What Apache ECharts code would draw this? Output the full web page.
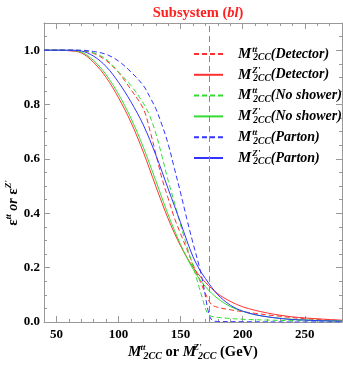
<!DOCTYPE html>
<html><head><meta charset="utf-8">
<script src="https://cdn.jsdelivr.net/npm/echarts@6/dist/echarts.min.js"></script>
<style>html,body{margin:0;padding:0;background:#fff}#c{width:343px;height:366px}</style>
</head><body><div id="c"></div>
<script>
// ---- data ----
const xTickValues = [50, 100, 150, 200, 250];
const xMinorValues = [40, 50, 60, 70, 80, 90, 100, 110, 120, 130, 140, 150, 160, 170, 180, 190, 200, 210, 220, 230, 240, 250, 260, 270, 280];
const yTickValues = [0, 0.2, 0.4, 0.6, 0.8, 1.0];
const yMinorValues = [0, 0.05, 0.1, 0.15, 0.2, 0.25, 0.3, 0.35, 0.4, 0.45, 0.5, 0.55, 0.6, 0.65, 0.7, 0.75, 0.8, 0.85, 0.9, 0.95, 1.0, 1.05];
const topMass = 173;

// Z' Detector (red solid)
const xZpDet = [40, 50, 60, 70, 80, 90, 100, 110, 120, 130, 140, 150, 160, 170, 180, 190, 200, 210, 220, 230, 240, 250, 260, 270, 280];
const yZpDet = [1.0, 1.0, 0.998, 0.99, 0.955, 0.9, 0.825, 0.735, 0.625, 0.5, 0.38, 0.28, 0.202, 0.146, 0.104, 0.076, 0.056, 0.043, 0.033, 0.025, 0.019, 0.015, 0.012, 0.009, 0.007];
// tt Detector (red dashed)
const xTtDet = [40, 50, 60, 70, 80, 90, 100, 110, 120, 125, 130, 135, 140, 145, 150, 155, 160, 165, 170, 172, 175, 180, 190, 200, 210, 220, 230, 240, 250, 260, 270, 280];
const yTtDet = [1.0, 1.0, 1.0, 0.998, 0.988, 0.962, 0.918, 0.855, 0.785, 0.71, 0.62, 0.528, 0.455, 0.383, 0.325, 0.268, 0.212, 0.158, 0.105, 0.085, 0.064, 0.054, 0.045, 0.038, 0.032, 0.026, 0.021, 0.016, 0.012, 0.009, 0.007, 0.005];
// Z' No shower (green solid)
const xZpNoSh = [40, 50, 60, 70, 80, 90, 100, 110, 120, 130, 140, 150, 160, 170, 180, 190, 200, 210, 220, 230, 240, 250, 260, 270, 280];
const yZpNoSh = [1.0, 1.0, 0.999, 0.993, 0.962, 0.91, 0.838, 0.75, 0.643, 0.52, 0.395, 0.285, 0.195, 0.13, 0.086, 0.057, 0.039, 0.027, 0.019, 0.014, 0.01, 0.008, 0.006, 0.005, 0.004];
// tt No shower (green dashed)
const xTtNoSh = [40, 50, 60, 70, 80, 90, 100, 110, 120, 125, 130, 135, 140, 145, 150, 155, 160, 165, 168, 170, 172, 175, 180, 190, 200, 220, 240, 260, 280];
const yTtNoSh = [1.0, 1.0, 1.0, 0.999, 0.99, 0.967, 0.92, 0.87, 0.805, 0.76, 0.695, 0.61, 0.52, 0.44, 0.357, 0.28, 0.205, 0.127, 0.08, 0.05, 0.03, 0.021, 0.017, 0.013, 0.01, 0.007, 0.005, 0.004, 0.003];
// Z' Parton (blue solid)
const xZpPart = [40, 50, 60, 70, 80, 90, 100, 110, 120, 130, 140, 150, 155, 160, 165, 170, 175, 180, 190, 200, 210, 220, 230, 240, 250, 260, 270, 280];
const yZpPart = [1.0, 1.0, 1.0, 0.997, 0.978, 0.94, 0.882, 0.81, 0.725, 0.615, 0.49, 0.365, 0.3, 0.24, 0.195, 0.16, 0.128, 0.1, 0.062, 0.04, 0.027, 0.019, 0.013, 0.009, 0.007, 0.005, 0.004, 0.003];
// tt Parton (blue dashed)
const xTtPart = [40, 50, 60, 70, 80, 90, 100, 110, 120, 125, 130, 135, 140, 145, 150, 155, 160, 165, 168, 170, 172, 174, 176, 180, 200, 240, 280];
const yTtPart = [1.0, 1.0, 1.0, 1.0, 0.995, 0.985, 0.96, 0.92, 0.87, 0.83, 0.785, 0.725, 0.655, 0.565, 0.475, 0.38, 0.29, 0.205, 0.145, 0.095, 0.045, 0.015, 0.005, 0.002, 0.001, 0.0, 0.0];

const RED = '#ff3030', GREEN = '#33dd33', BLUE = '#3333ff';
const SERIF = '"Liberation Serif", "DejaVu Serif", serif';

function pairs(xs, ys) { return xs.map((x, i) => [x, ys[i]]); }
function mk(name, xs, ys, color, dashed) {
  return {
    name: name, type: 'line', data: pairs(xs, ys),
    showSymbol: false, symbol: 'none', smooth: 0.35,
    lineStyle: { color: color, width: 1, type: dashed ? [5, 3] : 'solid' },
    itemStyle: { color: color }, z: 3
  };
}

const series = [
  mk("tt|Detector", xTtDet, yTtDet, RED, true),
  mk("Z'|Detector", xZpDet, yZpDet, RED, false),
  mk("tt|No shower", xTtNoSh, yTtNoSh, GREEN, true),
  mk("Z'|No shower", xZpNoSh, yZpNoSh, GREEN, false),
  mk("tt|Parton", xTtPart, yTtPart, BLUE, true),
  mk("Z'|Parton", xZpPart, yZpPart, BLUE, false)
];
series[0].markLine = {
  silent: true, symbol: 'none', label: { show: false },
  lineStyle: { color: '#888', type: [6, 4], width: 1 },
  data: [{ xAxis: topMass }]
};

const mathRich = {
  m: { fontFamily: SERIF, fontSize: 15, fontWeight: 'bold', fontStyle: 'italic', color: '#000', verticalAlign: 'middle', lineHeight: 18, padding: [0, 0, 0, 10] },
  sup: { fontFamily: SERIF, fontSize: 9, fontWeight: 'bold', fontStyle: 'italic', color: '#000', verticalAlign: 'top', lineHeight: 18, width: 1, padding: [0, 0, 0, 1] },
  sub: { fontFamily: SERIF, fontSize: 9.5, fontWeight: 'bold', fontStyle: 'italic', color: '#000', verticalAlign: 'bottom', lineHeight: 18 },
  t: { fontFamily: SERIF, fontSize: 14, fontWeight: 'bold', fontStyle: 'italic', color: '#000', verticalAlign: 'middle', lineHeight: 18 }
};

const axisColor = '#999';
function xAxisCfg(pos, labels) {
  return [{
    type: 'value', position: pos, min: 40, max: 280,
    axisLine: { show: true, onZero: false, lineStyle: { color: axisColor, width: 1 } },
    axisTick: { show: true, inside: true, length: 6, customValues: xTickValues, lineStyle: { color: axisColor } },
    axisLabel: { show: labels, customValues: xTickValues, margin: 6, fontFamily: SERIF, fontSize: 13, fontWeight: 'bold', color: '#000' },
    splitLine: { show: false }
  }, {
    type: 'value', position: pos, min: 40, max: 280,
    axisLine: { show: false, onZero: false },
    axisTick: { show: true, inside: true, length: 3, customValues: xMinorValues, lineStyle: { color: axisColor } },
    axisLabel: { show: false, customValues: xMinorValues },
    splitLine: { show: false }
  }];
}
function yAxisCfg(pos, labels) {
  return [{
    type: 'value', position: pos, min: 0, max: 1.1,
    axisLine: { show: true, onZero: false, lineStyle: { color: axisColor, width: 1 } },
    axisTick: { show: true, inside: true, length: 6, customValues: yTickValues, lineStyle: { color: axisColor } },
    axisLabel: { show: labels, customValues: yTickValues, margin: 4, fontFamily: SERIF, fontSize: 13, fontWeight: 'bold', color: '#000', formatter: v => v.toFixed(1) },
    splitLine: { show: false }
  }, {
    type: 'value', position: pos, min: 0, max: 1.1,
    axisLine: { show: false, onZero: false },
    axisTick: { show: true, inside: true, length: 3, customValues: yMinorValues, lineStyle: { color: axisColor } },
    axisLabel: { show: false, customValues: yMinorValues },
    splitLine: { show: false }
  }];
}

const chart = echarts.init(document.getElementById('c'), null, { renderer: 'canvas' });
chart.setOption({
  animation: false,
  backgroundColor: '#fff',
  title: {
    text: '{a|Subsystem (}{b|bl}{a|)}', left: 193, top: 1, textAlign: 'center',
    textStyle: { rich: {
      a: { fontFamily: SERIF, fontSize: 14.5, fontWeight: 'bold', color: '#ff2020' },
      b: { fontFamily: SERIF, fontSize: 14.5, fontWeight: 'bold', fontStyle: 'italic', color: '#ff2020' }
    } }
  },
  grid: { left: 44, right: 1, top: 23, bottom: 44, containLabel: false },
  xAxis: [].concat(xAxisCfg('bottom', true), xAxisCfg('top', false)),
  yAxis: [].concat(yAxisCfg('left', true), yAxisCfg('right', false)),
  legend: {
    orient: 'vertical', left: 193, top: 45, itemWidth: 29, itemHeight: 10, itemGap: 2.8,
    padding: 0, selectedMode: false,
    itemStyle: { opacity: 0, borderWidth: 0, color: 'rgba(0,0,0,0)' },
    formatter: function (name) {
      const p = name.split('|');
      return '{m|M}{sup|' + p[0] + '}{sub|2CC}{t|(' + p[1] + ')}';
    },
    textStyle: { rich: mathRich, padding: 0 }
  },
  graphic: [
    {
      type: 'text', x: 193, y: 352,
      style: {
        text: '{m|M}{sup|tt}{sub|2CC}{o| or }{m|M}{sup|Z\'}{sub|2CC}{o| (GeV)}',
        rich: {
          m: { fontFamily: SERIF, fontSize: 15, fontWeight: 'bold', fontStyle: 'italic', fill: '#000', verticalAlign: 'middle', lineHeight: 18 },
          sup: { fontFamily: SERIF, fontSize: 9, fontWeight: 'bold', fontStyle: 'italic', fill: '#000', verticalAlign: 'top', lineHeight: 18, width: 1, padding: [0, 0, 0, 1] },
          sub: { fontFamily: SERIF, fontSize: 10, fontWeight: 'bold', fontStyle: 'italic', fill: '#000', verticalAlign: 'bottom', lineHeight: 18 },
          o: { fontFamily: SERIF, fontSize: 14.5, fontWeight: 'bold', fill: '#000', verticalAlign: 'middle', lineHeight: 18 }
        },
        align: 'center', verticalAlign: 'middle', textAlign: 'center', textVerticalAlign: 'middle'
      }
    },
    {
      type: 'text', x: 13, y: 203, rotation: Math.PI / 2,
      style: {
        text: '{e|ε}{sup|tt}{o| or }{e|ε}{sup|Z\'}',
        rich: {
          e: { fontFamily: SERIF, fontSize: 15, fontWeight: 'bold', fill: '#000', verticalAlign: 'middle', lineHeight: 18 },
          sup: { fontFamily: SERIF, fontSize: 9, fontWeight: 'bold', fontStyle: 'italic', fill: '#000', verticalAlign: 'top', lineHeight: 18 },
          o: { fontFamily: SERIF, fontSize: 14, fontWeight: 'bold', fontStyle: 'italic', fill: '#000', verticalAlign: 'middle', lineHeight: 18 }
        },
        align: 'center', verticalAlign: 'middle', textAlign: 'center', textVerticalAlign: 'middle'
      }
    }
  ],
  series: series
});
</script>
</body></html>
